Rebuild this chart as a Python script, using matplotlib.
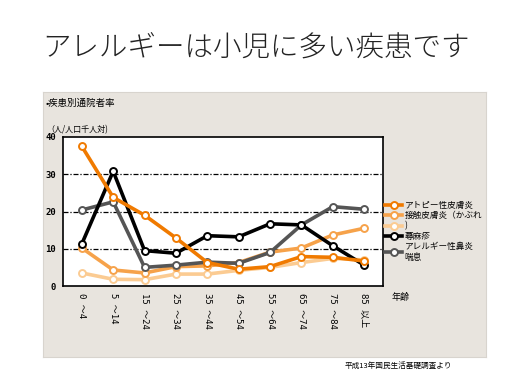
import matplotlib
matplotlib.use("Agg")
import matplotlib.pyplot as plt

plt.rcParams['font.family'] = ['Noto Sans CJK JP', 'DejaVu Sans']

# age groups and rates (per 1000 people)
ages = ['0 ～4', '5 ～14', '15 ～24', '25 ～34', '35 ～44',
        '45 ～54', '55 ～64', '65 ～74', '75 ～84', '85 以上']
atopy = [37.5, 23.8, 19.0, 12.9, 6.3, 4.5, 5.2, 7.9, 7.7, 6.7]
contact = [10.2, 4.3, 3.5, 5.2, 5.4, 6.3, 9.1, 10.2, 13.7, 15.5]
light = [3.5, 1.8, 1.7, 3.2, 3.2, 4.2, 5.0, 6.3, 7.4, 7.0]
black = [11.3, 30.8, 9.5, 8.8, 13.5, 13.2, 16.7, 16.4, 10.8, 5.6]
gray = [20.4, 22.6, 5.0, 5.6, 6.4, 6.1, 9.0, 16.4, 21.3, 20.6]

fig = plt.figure(figsize=(5.12, 3.84), dpi=100)
fig.patch.set_facecolor('white')

# gray panel behind the chart
bg = fig.add_axes([43/512, 1-357/384, 443/512, 265/384])
bg.set_facecolor('#E8E4DE')
bg.set_xticks([])
bg.set_yticks([])
for s in bg.spines.values():
    s.set_color('#D8D4CE')
    s.set_linewidth(0.8)

fig.text(42/512, 1-47/384, 'アレルギーは小児に多い疾患です', fontsize=20.5,
         va='center', ha='left', color='#222222', fontweight='light')
fig.text(46/512, 1-103/384, '•疾患別通院者率', fontsize=6.8, va='center')
fig.text(46/512, 1-130/384, '（人/人口千人対)', fontsize=5.8, va='center')
fig.text(392/512, 1-297/384, '年齢', fontsize=6.5, va='center')
fig.text(345/512, 1-366/384, '平成13年国民生活基礎調査より', fontsize=5.5, va='center')

ax = fig.add_axes([63/512, 98/384, 320/512, 149/384])
x = list(range(len(ages)))
series = [(light, '#FBCB92', ')'),
          (contact, '#F6A24A', '接触皮膚炎（かぶれ'),
          (gray, '#555555', 'アレルギー性鼻炎\n喘息'),
          (black, '#000000', '蕁麻疹'),
          (atopy, '#F07A00', 'アトピー性皮膚炎')]
handles = {}
for vals, col, lab in series:
    h, = ax.plot(x, vals, color=col, lw=2.6, marker='o', ms=5,
                 mfc='white', mec=col, mew=1.4)
    handles[lab] = h

for yv in [10, 20, 30]:
    ax.axhline(yv, color='black', lw=0.9, ls=(0, (4, 1.5, 1, 1.5)), zorder=0)

ax.set_xlim(-0.6, 9.6)
ax.set_ylim(0, 40)
ax.set_yticks([0, 10, 20, 30, 40])
ax.set_yticklabels(['0', '10', '20', '30', '40'], family='DejaVu Sans Mono',
                   fontsize=6.5, fontweight='bold')
ax.set_xticks(x)
ax.set_xticklabels(ages, rotation=-90, fontsize=6.5, va='top', ha='center',
                   family=['DejaVu Sans Mono', 'Noto Sans CJK JP'])
ax.tick_params(length=0)
ax.tick_params(axis='y', pad=5)
ax.tick_params(axis='x', pad=5)
for s in ax.spines.values():
    s.set_linewidth(1.2)

order = ['アトピー性皮膚炎', '接触皮膚炎（かぶれ', ')', '蕁麻疹', 'アレルギー性鼻炎\n喘息']
leg = ax.legend([handles[k] for k in order], order, loc='upper left',
                bbox_to_anchor=(385/512, 1-201/384), bbox_transform=fig.transFigure,
                frameon=False, fontsize=6.2, labelspacing=0.15, handlelength=2.0,
                handletextpad=0.3, borderpad=0, borderaxespad=0)

fig.savefig('out.png', dpi=100)
